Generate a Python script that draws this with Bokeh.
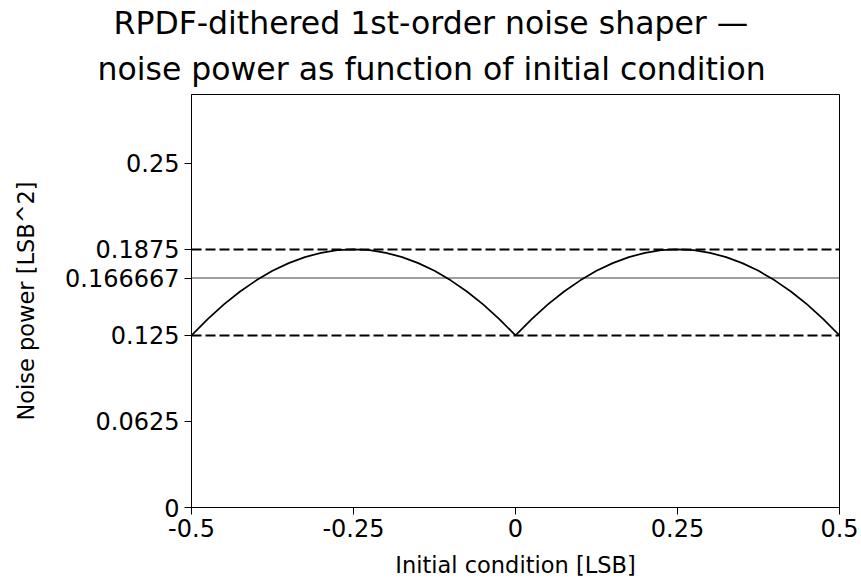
from bokeh.plotting import figure
from bokeh.models import Range1d, FixedTicker, Span, Title
from bokeh.embed import file_html
from bokeh.resources import INLINE

# ---- data ----
initial_condition = [-0.5, -0.475, -0.45, -0.425, -0.4, -0.375, -0.35, -0.325, -0.3, -0.275,
                     -0.25, -0.225, -0.2, -0.175, -0.15, -0.125, -0.1, -0.075, -0.05, -0.025,
                     0.0, 0.025, 0.05, 0.075, 0.1, 0.125, 0.15, 0.175, 0.2, 0.225,
                     0.25, 0.275, 0.3, 0.325, 0.35, 0.375, 0.4, 0.425, 0.45, 0.475, 0.5]
noise_power = [0.125, 0.1369, 0.1475, 0.1569, 0.165, 0.1719, 0.1775, 0.1819, 0.185, 0.1869,
               0.1875, 0.1869, 0.185, 0.1819, 0.1775, 0.1719, 0.165, 0.1569, 0.1475, 0.1369,
               0.125, 0.1369, 0.1475, 0.1569, 0.165, 0.1719, 0.1775, 0.1819, 0.185, 0.1869,
               0.1875, 0.1869, 0.185, 0.1819, 0.1775, 0.1719, 0.165, 0.1569, 0.1475, 0.1369,
               0.125]
upper_level = 0.1875
lower_level = 0.125
mean_level = 0.166667
x_ticks = [-0.5, -0.25, 0, 0.25, 0.5]
y_ticks = [0, 0.0625, 0.125, 0.166667, 0.1875, 0.25]
title_lines = ["RPDF-dithered 1st-order noise shaper \u2014",
               "noise power as function of initial condition"]
x_title = "Initial condition [LSB]"
y_title = "Noise power [LSB^2]"

FONT = "DejaVu Sans"
TICK_FS = "24px"
LABEL_FS = "22.5px"
TITLE_FS = "31.5px"

p = figure(width=861, height=585, output_backend="svg", toolbar_location=None,
           x_range=Range1d(-0.5, 0.5), y_range=Range1d(0, 0.3),
           min_border_left=191, min_border_right=22, min_border_top=94, min_border_bottom=78,
           background_fill_color="white", border_fill_color="white")
p.grid.visible = False
p.outline_line_color = "black"
p.outline_line_width = 1
p.outline_line_alpha = 1

for ax in (p.xaxis[0], p.yaxis[0]):
    ax.axis_line_color = "black"
    ax.axis_line_width = 1
    ax.major_tick_line_color = "black"
    ax.major_tick_out = 7
    ax.major_tick_in = 0
    ax.minor_tick_line_color = None
    ax.major_label_text_font = FONT
    ax.major_label_text_font_size = TICK_FS
    ax.major_label_text_color = "black"
    ax.axis_label_text_font = FONT
    ax.axis_label_text_font_size = LABEL_FS
    ax.axis_label_text_font_style = "normal"
    ax.axis_label_text_color = "black"

p.xaxis.ticker = FixedTicker(ticks=x_ticks)
p.yaxis.ticker = FixedTicker(ticks=y_ticks)
p.xaxis.major_label_overrides = {t: str(t) for t in x_ticks}
p.yaxis.major_label_overrides = {t: str(t) for t in y_ticks}
p.xaxis.major_label_standoff = 4
p.yaxis.major_label_standoff = 5
p.xaxis.axis_label = x_title
p.yaxis.axis_label = y_title
p.xaxis.axis_label_standoff = 12
p.yaxis.axis_label_standoff = 23

# reference lines
p.add_layout(Span(location=upper_level, dimension="width", line_color="black", line_width=2, line_dash="10 4"))
p.add_layout(Span(location=lower_level, dimension="width", line_color="black", line_width=2, line_dash="10 4"))
p.add_layout(Span(location=mean_level, dimension="width", line_color="black", line_width=1.5, line_dash="1 1"))

p.line(initial_condition, noise_power, line_color="black", line_width=1.7)

# two-line title, centred on the canvas (second line is added first: it sits nearer the frame)
p.add_layout(Title(text=title_lines[1], align="left", offset=-94, standoff=15, text_font=FONT,
                   text_font_size=TITLE_FS, text_font_style="normal", text_color="black"), "above")
p.add_layout(Title(text=title_lines[0], align="left", offset=-78, standoff=2, text_font=FONT,
                   text_font_size=TITLE_FS, text_font_style="normal", text_color="black"), "above")

open("out.html", "w").write(file_html(p, INLINE))
